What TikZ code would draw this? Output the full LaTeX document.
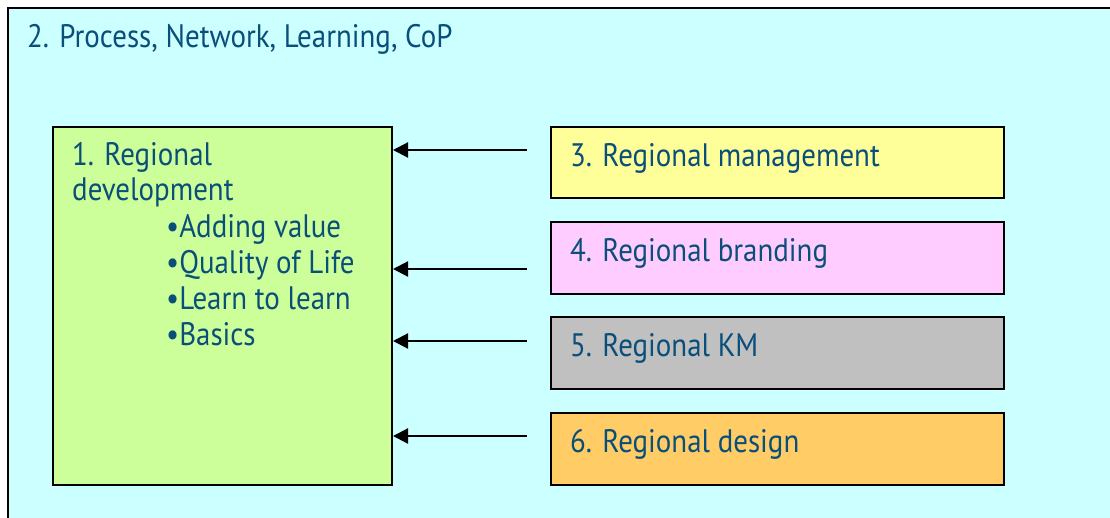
\documentclass[tikz,border=0pt]{standalone}
\usepackage{fontspec}
\setmainfont{PT Sans}[FakeStretch=0.89]
\usetikzlibrary{arrows.meta}

\definecolor{framefill}{HTML}{CCFFFF}
\definecolor{devfill}{HTML}{CCFF99}
\definecolor{mgmtfill}{HTML}{FFFF99}
\definecolor{brandfill}{HTML}{FFCCFF}
\definecolor{kmfill}{HTML}{C0C0C0}
\definecolor{designfill}{HTML}{FFCC66}
\definecolor{labelblue}{RGB}{10,78,122}

\tikzset{
  panel/.style={draw=black, line width=2pt, inner sep=0pt, anchor=north west},
  sidebox/.style={panel, minimum width=453pt, minimum height=72pt},
  lbl/.style={text=labelblue, font=\fontsize{32.5}{36}\selectfont, inner sep=0pt, anchor=base west},
  feed/.style={line width=2.2pt, -{Triangle[length=15pt, width=15pt]}}
}

\begin{document}
\begin{tikzpicture}[x=1pt, y=-1pt]
\useasboundingbox (0,0) rectangle (1110,517);
\clip (0,0) rectangle (1110,517);
\fill[white] (0,0) rectangle (1110,517);

% enclosing process frame (runs past the lower and right edges)
\node[panel, fill=framefill, minimum width=1140pt, minimum height=540pt] (frame) at (7,7) {};
\node[lbl] (ttl) at (27,47) {2. Process, Network, Learning, CoP};

% regional development block
\node[panel, fill=devfill, minimum width=339pt, minimum height=358pt] (dev) at (52,126) {};
\node[lbl] (d1) at (72,165) {1. Regional};
\node[lbl] (d2) at (72,200) {development};
\node[lbl] (d3) at (166,237) {\textbullet Adding value};
\node[lbl] (d4) at (166,273) {\textbullet Quality of Life};
\node[lbl] (d5) at (166,309) {\textbullet Learn to learn};
\node[lbl] (d6) at (166,345) {\textbullet Basics};

% contributing activities
\node[sidebox, fill=mgmtfill, minimum height=71pt] (mgmt) at (550,126) {};
\node[lbl] (t3) at (570,166) {3. Regional management};
\node[sidebox, fill=brandfill] (brand) at (550,221) {};
\node[lbl] (t4) at (570,261) {4. Regional branding};
\node[sidebox, fill=kmfill] (km) at (550,316) {};
\node[lbl] (t5) at (570,356) {5. Regional KM};
\node[sidebox, fill=designfill] (design) at (550,412) {};
\node[lbl] (t6) at (570,452) {6. Regional design};

% arrows feeding into regional development
\coordinate (s3) at (527,150);
\coordinate (s4) at (527,269);
\coordinate (s5) at (527,341);
\coordinate (s6) at (527,436);
\draw[feed] (s3) -- (s3 -| dev.east);
\draw[feed] (s4) -- (s4 -| dev.east);
\draw[feed] (s5) -- (s5 -| dev.east);
\draw[feed] (s6) -- (s6 -| dev.east);
\end{tikzpicture}
\end{document}
